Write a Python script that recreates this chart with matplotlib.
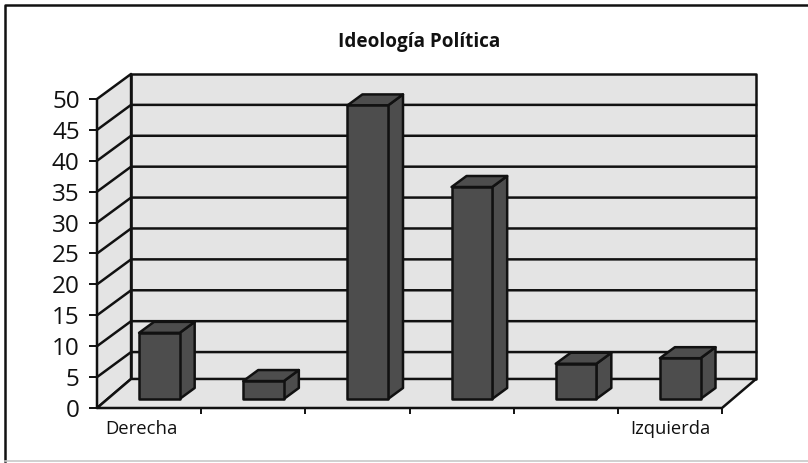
"""Recreate the 3D-look column chart of political ideology."""

import matplotlib.pyplot as plt
from matplotlib.lines import Line2D
from matplotlib.patches import Polygon

plt.rcParams["font.family"] = ["Open Sans", "DejaVu Sans"]

TITLE = "Ideología Política"
SLOTS = [0, 1, 2, 3, 4, 5]
VALUES = [10.7, 2.9, 47.5, 34.3, 5.7, 6.6]
Y_TICKS = [0, 5, 10, 15, 20, 25, 30, 35, 40, 45, 50]
END_LABELS = ["Derecha", "Izquierda"]

WALL = "#e4e4e4"
BAR = "#4d4d4d"
LINE = "#111111"
WIDTH_PX, HEIGHT_PX = 808, 463
FLOOR_RISE = 0.65


def proj(x, y, d):
    """Map a point at depth d (0 front, 1 back) onto the front-plane axes."""
    return x + d * 0.327, y + d * 4.05


def face(ax, points, color, zorder, lw=1.8):
    ax.add_patch(
        Polygon(
            [proj(*p) for p in points],
            closed=True,
            facecolor=color,
            edgecolor=LINE,
            linewidth=lw,
            joinstyle="round",
            clip_on=False,
            zorder=zorder,
        )
    )


def draw_walls(ax):
    n = len(SLOTS)
    top = Y_TICKS[-1]
    face(ax, [(0, FLOOR_RISE, 1), (n, FLOOR_RISE, 1), (n, top, 1), (0, top, 1)], WALL, 1)
    face(ax, [(0, 0, 0), (0, FLOOR_RISE, 1), (0, top, 1), (0, top, 0)], WALL, 1)
    face(ax, [(0, 0, 0), (n, 0, 0), (n, FLOOR_RISE, 1), (0, FLOOR_RISE, 1)], WALL, 1)
    for y in Y_TICKS[1:-1]:
        xs, ys = zip(proj(0, y, 0), proj(0, y, 1), proj(n, y, 1))
        ax.plot(xs, ys, color=LINE, lw=1.8, clip_on=False, zorder=2)


def draw_bar(ax, slot, value, zorder):
    width = 0.39
    d0, d1 = 0.36, 0.8
    x0 = slot + 0.286
    x1 = x0 + width
    face(ax, [(x1, 0, d0), (x1, 0, d1), (x1, value, d1), (x1, value, d0)], BAR, zorder)
    face(ax, [(x0, value, d0), (x1, value, d0), (x1, value, d1), (x0, value, d1)], BAR, zorder)
    face(ax, [(x0, 0, d0), (x1, 0, d0), (x1, value, d0), (x0, value, d0)], BAR, zorder)


def draw_frame(fig):
    # the source image is cropped: no right edge, and a pale bottom edge
    left, right = 5 / WIDTH_PX, 1
    top, bottom = 1 - 5 / HEIGHT_PX, 1 - 461 / HEIGHT_PX
    fig.add_artist(Line2D([left, left, right], [bottom, top, top], color=LINE, lw=1.8))
    fig.add_artist(Line2D([left, right], [bottom, bottom], color="#c8c8c8", lw=1.2))


def main():
    fig = plt.figure(figsize=(WIDTH_PX / 100, HEIGHT_PX / 100), dpi=100)
    ax = fig.add_axes(
        [97 / WIDTH_PX, 1 - 408 / HEIGHT_PX, 625 / WIDTH_PX, 309 / HEIGHT_PX]
    )
    ax.set_xlim(0, len(SLOTS))
    ax.set_ylim(Y_TICKS[0], Y_TICKS[-1])
    ax.patch.set_visible(False)
    for spine in ax.spines.values():
        spine.set_visible(False)

    draw_walls(ax)
    for slot, value in zip(SLOTS, VALUES):
        draw_bar(ax, slot, value, 3)

    ax.set_yticks(Y_TICKS)
    ax.set_yticklabels([str(t) for t in Y_TICKS], fontsize=17.5, color="#111111")
    ax.tick_params(axis="y", length=5.5, width=1.4, pad=7, color=LINE)
    ax.set_xticks(range(1, len(SLOTS) + 1))
    ax.set_xticklabels([])
    ax.tick_params(axis="x", length=4, width=1.4, color=LINE)

    ax.text(0.43, -1.9, END_LABELS[0], ha="center", va="top", fontsize=13.3, color="#111111")
    ax.text(5.5, -1.9, END_LABELS[1], ha="center", va="top", fontsize=13.2, color="#111111")

    fig.text(
        419 / WIDTH_PX, 1 - 42 / HEIGHT_PX, TITLE,
        ha="center", va="center", fontsize=13.6, fontweight="bold", color="#111111",
    )

    draw_frame(fig)
    fig.savefig("out.png", dpi=100)


if __name__ == "__main__":
    main()
